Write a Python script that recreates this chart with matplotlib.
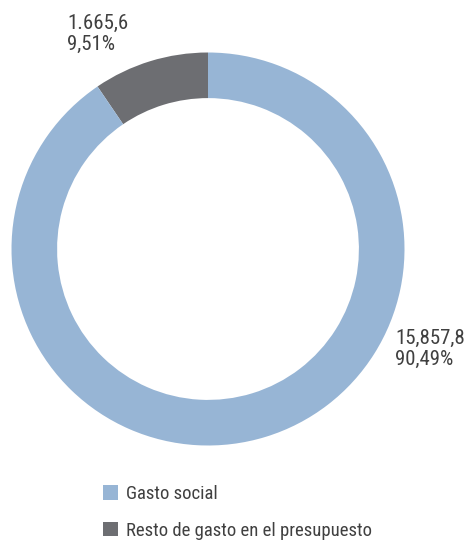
import matplotlib
matplotlib.use("Agg")
import matplotlib.pyplot as plt
from matplotlib.patches import Patch

categories = ["Gasto social", "Resto de gasto en el presupuesto"]
values = [15857.8, 1665.6]
value_labels = ["15,857,8", "1.665,6"]
pct_labels = ["90,49%", "9,51%"]
colors = ["#97b5d5", "#6d6e72"]

plt.rcParams['font.family'] = ['Roboto Condensed', 'Liberation Sans Narrow', 'Roboto', 'DejaVu Sans']

W, H = 469, 541
fig = plt.figure(figsize=(W/100, H/100), dpi=100)
cx, cy, R = 208, 249, 196.5
ax = fig.add_axes([(cx-R)/W, (H-cy-R)/H, 2*R/W, 2*R/H])
ax.pie(values[::-1], colors=colors[::-1], startangle=90, counterclock=True,
       radius=1, wedgeprops=dict(width=0.232, edgecolor='none', linewidth=0))
ax.set_xlim(-1, 1); ax.set_ylim(-1, 1)
ax.set_aspect('equal')
ax.axis('off')

txtc = "#404040"
fs = 15
fig.text(67/W, 1-50/H, value_labels[1] + "\n" + pct_labels[1], fontsize=fs, color=txtc,
         ha='left', va='baseline', linespacing=1.15)
fig.text(395/W, 1-365/H, value_labels[0] + "\n" + pct_labels[0], fontsize=fs, color=txtc,
         ha='left', va='baseline', linespacing=1.15)

lfs = 13.5
handles = [Patch(facecolor=c, edgecolor='none') for c in colors]
leg = fig.legend(handles, categories, loc='upper left', bbox_to_anchor=(103/W, 1-485/H),
                 frameon=False, fontsize=lfs, handlelength=0.8, handleheight=0.8,
                 handletextpad=0.45, labelspacing=1.0, borderpad=0, borderaxespad=0,
                 labelcolor=txtc)

fig.savefig("out.png", dpi=100)
